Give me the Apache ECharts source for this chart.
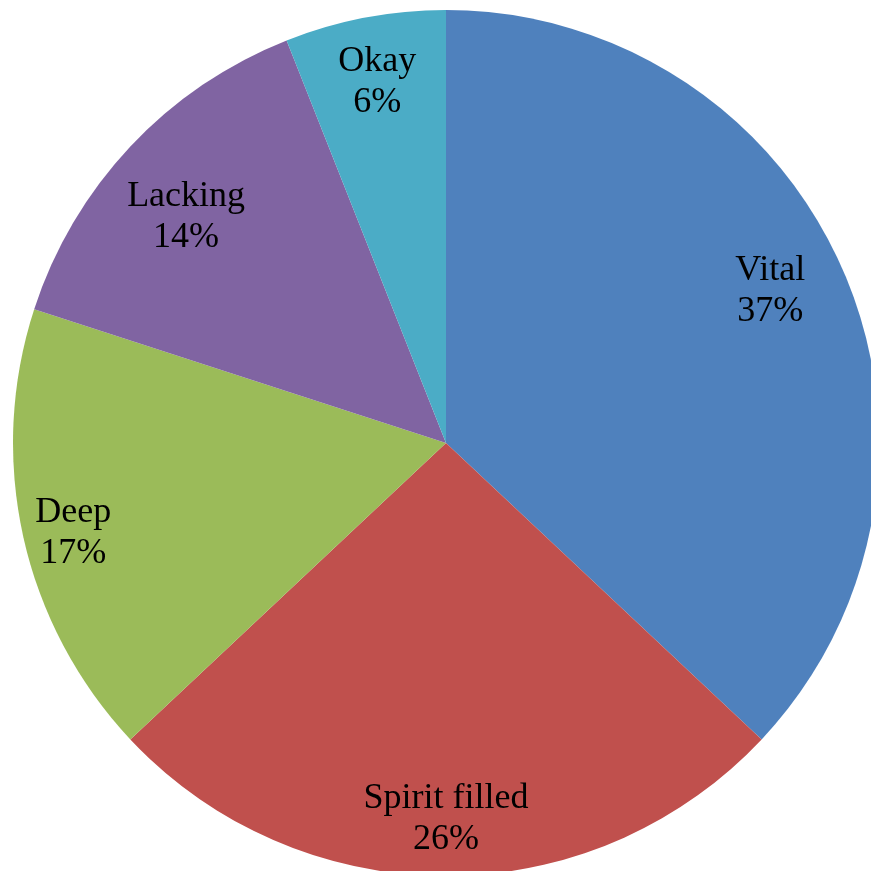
<!DOCTYPE html>
<html>
<head>
<meta charset="utf-8">
<script src="https://cdn.jsdelivr.net/npm/echarts@6/dist/echarts.min.js"></script>
<style>
html, body { margin: 0; padding: 0; background: #fff; }
#chart { width: 871px; height: 871px; }
</style>
</head>
<body>
<div id="chart"></div>
<script>
// slices, clockwise from 12 o'clock
const names = ['Vital', 'Spirit filled', 'Deep', 'Lacking', 'Okay']
const shares = [37, 26, 17, 14, 6]
const colors = ['#4F81BD', '#C0504D', '#9BBB59', '#8064A2', '#4BACC6']

// small nudges so labels sit where the original "best fit" put them
// dx via side padding, dy via an empty spacer line above/below
const nudge = {
  'Vital': { dx: -13, dy: -6 },
  'Spirit filled': { dx: 0, dy: 9 },
  'Deep': { dx: -14, dy: 10 },
  'Lacking': { dx: 8, dy: 26 },
  'Okay': { dx: 0, dy: 0 }
}

const pieData = names.map((n, i) => ({ name: n, value: shares[i] }))
const labelData = names.map((n, i) => {
  let d = nudge[n]
  return {
    name: n,
    value: shares[i],
    label: {
      padding: [0, d.dx < 0 ? -2 * d.dx : 0, 0, d.dx > 0 ? 2 * d.dx : 0],
      rich: { g: { fontSize: 1, lineHeight: Math.max(1, 2 * Math.abs(d.dy)) } }
    }
  }
})

let chart = echarts.init(document.getElementById('chart'))
chart.setOption({
  animation: false,
  color: colors,
  series: [{
    // the actual pie
    type: 'pie',
    center: [446, 443],
    radius: [0, 433],
    startAngle: 90,
    clockwise: true,
    label: { show: false },
    labelLine: { show: false },
    itemStyle: { borderWidth: 0 },
    emphasis: { disabled: true },
    data: pieData
  }, {
    // transparent ring used only to place labels near the rim
    type: 'pie',
    center: [446, 443],
    radius: [296, 433],
    startAngle: 90,
    clockwise: true,
    silent: true,
    itemStyle: { color: 'rgba(0,0,0,0)', borderWidth: 0 },
    label: {
      show: true,
      position: 'inside',
      color: '#000',
      fontFamily: '"Liberation Serif", "DejaVu Serif", serif',
      fontSize: 36,
      lineHeight: 41,
      align: 'center',
      formatter: function (p) {
        let dy = nudge[p.name].dy
        let txt = p.name + '\n' + p.value + '%'
        if (dy > 0) return '{g| }\n' + txt
        if (dy < 0) return txt + '\n{g| }'
        return txt
      }
    },
    labelLine: { show: false },
    data: labelData
  }]
})
</script>
</body>
</html>
